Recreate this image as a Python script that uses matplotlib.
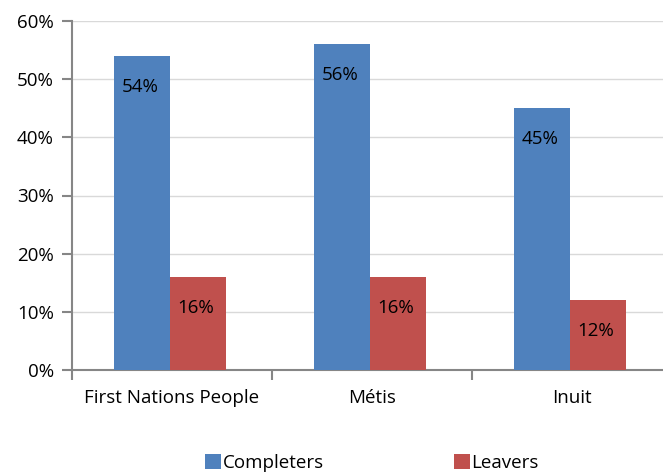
import numpy as np
import matplotlib.pyplot as plt
from matplotlib.ticker import FixedLocator, PercentFormatter

groups = ["First Nations People", "Métis", "Inuit"]
completers = [54, 56, 45]
leavers = [16, 16, 12]

blue = "#4F81BD"
red = "#C0504D"
axis_grey = "#868686"

plt.rcParams["font.family"] = ["Open Sans", "DejaVu Sans"]
fs = 13.5

fig = plt.figure(figsize=(6.63, 4.74), dpi=100)
ax = fig.add_axes([72 / 663, 1 - 370 / 474, 1 - 72 / 663, (370 - 21) / 474])

x = np.arange(len(groups))
w = 0.28
b1 = ax.bar(x - 0.15, completers, w, color=blue, label="Completers", zorder=3)
b2 = ax.bar(x + 0.13, leavers, w, color=red, label="Leavers", zorder=3)

# value labels sit just inside the top of each bar
for bars, vals in ((b1, completers), (b2, leavers)):
    for bar, v in zip(bars, vals):
        ax.text(bar.get_x() + bar.get_width() / 2 - 0.01, v - 5.3, f"{v}%",
                ha="center", va="center", fontsize=fs, color="black", zorder=4)

ax.set_xlim(-0.5, 2.455)
ax.set_ylim(0, 60)
ax.set_yticks(range(0, 61, 10))
ax.yaxis.set_major_formatter(PercentFormatter(decimals=0))
ax.grid(axis="y", color="#D9D9D9", linewidth=1, zorder=0)

ax.set_xticks(x)
ax.set_xticklabels(groups)
ax.xaxis.set_minor_locator(FixedLocator([-0.5, 0.5, 1.5, 2.5]))
ax.tick_params(axis="x", which="major", length=0, pad=14, labelsize=fs)
ax.tick_params(axis="x", which="minor", length=7, width=1.5, color=axis_grey)
ax.tick_params(axis="y", length=7, width=1.5, color=axis_grey, pad=6, labelsize=fs)

for side in ("top", "right"):
    ax.spines[side].set_visible(False)
for side in ("left", "bottom"):
    ax.spines[side].set_color(axis_grey)
    ax.spines[side].set_linewidth(1.5)

fig.legend(handles=[b1, b2], loc="center", bbox_to_anchor=(372 / 663, 1 - 463 / 474),
           ncol=2, frameon=False, fontsize=fs, handlelength=0.85, handleheight=0.85,
           handletextpad=0.1, columnspacing=6.9, borderaxespad=0)

fig.savefig("out.png", dpi=100)
